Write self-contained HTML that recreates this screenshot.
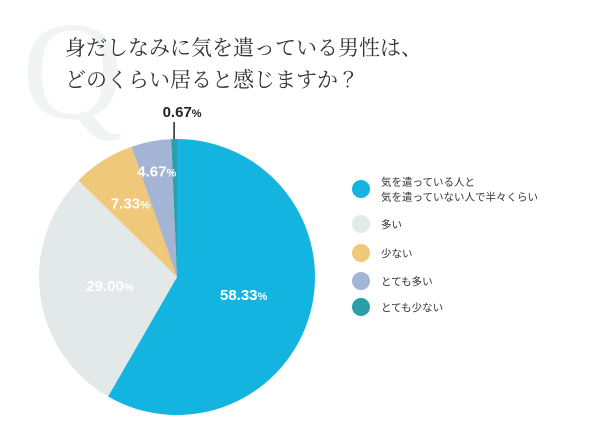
<!DOCTYPE html>
<html><head><meta charset="utf-8"><style>
body{margin:0;background:#fff;}
#c{position:relative;width:600px;height:426px;overflow:hidden;background:#fff;}
</style></head><body>
<div id="c">
<svg width="600" height="426" id="svg">
<text x="22" y="118" font-family="Liberation Serif, serif" font-size="140" fill="#f1f4f4">Q</text>
<text x="65" y="55" font-family="'Noto Serif CJK JP','Noto Serif CJK SC', serif" font-size="21" fill="#333">身だしなみに気を遣っている男性は、</text>
<text x="65" y="87" font-family="'Noto Serif CJK JP','Noto Serif CJK SC', serif" font-size="21" fill="#333">どのくらい居ると感じますか？</text>
<g id="slices"></g>
<g id="labels"></g>
<g id="legend"></g>
</svg>
</div>
<script>
const categories=["気を遣っている人と\n気を遣っていない人で半々くらい","多い","少ない","とても多い","とても少ない"];
const values=[58.33,29.00,7.33,4.67,0.67];
const colors=["#13b5e0","#e3e8e8","#f0c87a","#a3b4d4","#2a9faa"];
const NS="http://www.w3.org/2000/svg";
const cx=177,cy=277,r=138;
const total=values.reduce((a,b)=>a+b,0);
function pt(a,rr){return [cx+rr*Math.sin(a),cy-rr*Math.cos(a)];}
const sg=document.getElementById('slices'),lg=document.getElementById('labels'),leg=document.getElementById('legend');
let a0=0;
const labelR=[0.5,0.49,0.63,0.78,0];
values.forEach((v,i)=>{
  const a1=a0+v/total*2*Math.PI;
  const p0=pt(a0,r),p1=pt(a1,r);
  const path=document.createElementNS(NS,'path');
  path.setAttribute('d',`M${cx},${cy}L${p0[0]},${p0[1]}A${r},${r} 0 ${a1-a0>Math.PI?1:0} 1 ${p1[0]},${p1[1]}Z`);
  path.setAttribute('fill',colors[i]);
  
  
  sg.appendChild(path);
  const am=(a0+a1)/2;
  const t=document.createElementNS(NS,'text');
  const num=document.createElementNS(NS,'tspan');num.textContent=v.toFixed(2);
  const pc=document.createElementNS(NS,'tspan');pc.textContent='%';pc.setAttribute('font-size','11');
  t.appendChild(num);t.appendChild(pc);
  t.setAttribute('font-family','Liberation Sans, sans-serif');t.setAttribute('font-weight','bold');
  t.setAttribute('font-size','15');t.setAttribute('text-anchor','middle');
  if(i===4){
    const lp=pt(am,r);
    const ln=document.createElementNS(NS,'line');
    ln.setAttribute('x1',lp[0]);ln.setAttribute('x2',lp[0]);ln.setAttribute('y1',lp[1]);ln.setAttribute('y2',lp[1]-17);
    ln.setAttribute('stroke','#222');ln.setAttribute('stroke-width','1.5');
    
    
    lg.appendChild(ln);
    t.setAttribute('x',lp[0]+8);t.setAttribute('y',lp[1]-22);t.setAttribute('fill','#222');
  }else{
    const lp=pt(am,r*labelR[i]);
    t.setAttribute('x',lp[0]);t.setAttribute('y',lp[1]+5);t.setAttribute('fill','#fff');
  }
  
  
  lg.appendChild(t);
  a0=a1;
});
const legY=[189,224,253,281,307];
categories.forEach((c,i)=>{
  const g=document.createElementNS(NS,'g');
  
  
  const ci=document.createElementNS(NS,'circle');
  ci.setAttribute('cx',361);ci.setAttribute('cy',legY[i]);ci.setAttribute('r',9);ci.setAttribute('fill',colors[i]);
  g.appendChild(ci);
  const lines=c.split('\n');
  lines.forEach((l,j)=>{
    const t=document.createElementNS(NS,'text');
    t.textContent=l;
    t.setAttribute('x',381);
    t.setAttribute('y',legY[i]+4+(j-(lines.length-1)/2)*15);
    t.setAttribute('font-family',"'Liberation Sans','Noto Sans CJK JP',sans-serif");
    t.setAttribute('font-size','10.5');t.setAttribute('fill','#333');
    g.appendChild(t);
  });
  leg.appendChild(g);
});
</script>
</body></html>
